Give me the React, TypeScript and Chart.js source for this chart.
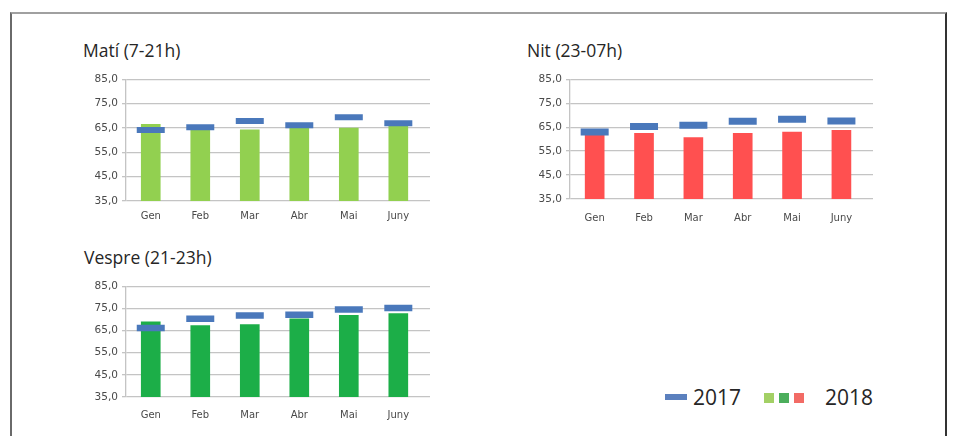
import React, { useEffect, useRef } from "react";
import { Chart, registerables } from "chart.js";

Chart.register(...registerables);

const months = ["Gen", "Feb", "Mar", "Abr", "Mai", "Juny"];
const yTicks = [35, 45, 55, 65, 75, 85];

const mati2018 = [66.5, 65.3, 64.2, 65.5, 65.0, 65.8];
const mati2017 = [64.2, 65.3, 67.9, 66.1, 69.4, 66.9];
const nit2018 = [62.5, 62.4, 60.7, 62.4, 63.0, 63.7];
const nit2017 = [63.0, 65.3, 65.8, 67.5, 68.3, 67.6];
const vespre2018 = [68.9, 67.3, 67.7, 70.3, 71.9, 72.7];
const vespre2017 = [66.2, 70.3, 71.8, 72.2, 74.5, 75.2];

const BLUE = "#4a78bb";
const LIGHT_GREEN = "#92d050";
const DARK_GREEN = "#1cae48";
const RED = "#ff5050";
const GRID = "#c4c4c4";
const TICK_COLOR = "#4a4a4a";

type PanelProps = {
  left: number;
  top: number;
  width: number;
  height: number;
  bars: number[];
  marks: number[];
  color: string;
  labelPad: number;
  markThick: number;
};

function Panel(p: PanelProps) {
  const ref = useRef<HTMLCanvasElement | null>(null);
  useEffect(() => {
    if (!ref.current) return;
    const chart = new Chart(ref.current, {
      type: "bar",
      data: {
        datasets: [
          {
            type: "line",
            data: p.marks.map((v, i) => ({ x: i, y: v })),
            showLine: false,
            pointStyle: "line",
            pointRadius: 14,
            pointHoverRadius: 14,
            pointBorderWidth: p.markThick,
            pointBorderColor: BLUE,
            pointBackgroundColor: BLUE,
            borderColor: BLUE,
            order: 0,
          } as any,
          {
            type: "bar",
            data: p.bars.map((v, i) => ({ x: i, y: v })),
            backgroundColor: p.color,
            borderWidth: 0,
            barThickness: 19,
            order: 1,
          } as any,
        ],
      },
      options: {
        animation: false,
        responsive: false,
        maintainAspectRatio: false,
        layout: { autoPadding: false, padding: { top: 10, left: 0, right: 0, bottom: 0 } },
        plugins: { legend: { display: false }, tooltip: { enabled: false } },
        scales: {
          x: {
            type: "linear",
            min: -0.5,
            max: 5.64,
            offset: false,
            grid: { display: false, drawTicks: false },
            border: { display: false },
            afterBuildTicks: (s: any) => {
              s.ticks = months.map((_, i) => ({ value: i }));
            },
            afterFit: (s: any) => {
              s.height = 29;
            },
            ticks: {
              autoSkip: false,
              maxRotation: 0,
              padding: p.labelPad,
              color: TICK_COLOR,
              font: { family: "DejaVu Sans", size: 10 },
              callback: (v: any) => months[Math.round(Number(v))] ?? "",
            },
          },
          y: {
            min: 35,
            max: 85,
            afterBuildTicks: (s: any) => {
              s.ticks = yTicks.map((v) => ({ value: v }));
            },
            afterFit: (s: any) => {
              s.width = 56;
            },
            grid: { color: GRID, lineWidth: 1.3, tickLength: 4, drawTicks: true },
            border: { display: true, color: GRID, width: 1.3 },
            ticks: {
              padding: 4,
              color: TICK_COLOR,
              font: { family: "DejaVu Sans", size: 10.5 },
              callback: (v: any) => Number(v).toFixed(1).replace(".", ","),
            },
          },
        },
      } as any,
    });
    return () => chart.destroy();
  }, []);
  return (
    <canvas
      ref={ref}
      width={p.width}
      height={p.height}
      style={{ position: "absolute", left: p.left, top: p.top, width: p.width, height: p.height }}
    />
  );
}

const titleStyle: React.CSSProperties = {
  position: "absolute",
  fontFamily: "'Open Sans', sans-serif",
  fontSize: 17.5,
  lineHeight: "17px",
  color: "#262626",
  whiteSpace: "nowrap",
};

const legendText: React.CSSProperties = {
  position: "absolute",
  fontFamily: "'Open Sans', sans-serif",
  fontSize: 21,
  lineHeight: "22px",
  color: "#262626",
  whiteSpace: "nowrap",
};

export default function App() {
  return (
    <div
      style={{
        position: "absolute",
        left: 0,
        top: 0,
        width: 955,
        height: 436,
        overflow: "hidden",
        background: "#ffffff",
      }}
    >
      <div
        style={{
          position: "absolute",
          left: 10,
          top: 12,
          width: 933,
          height: 460,
          borderLeft: "2px solid #6a6a6a",
          borderTop: "2px solid #a0a0a0",
          borderRight: "2px solid #333333",
        }}
      />
      <div style={{ ...titleStyle, left: 83, top: 42 }}>Matí (7-21h)</div>
      <div style={{ ...titleStyle, left: 527, top: 42 }}>Nit (23-07h)</div>
      <div style={{ ...titleStyle, left: 84, top: 249 }}>Vespre (21-23h)</div>

      <Panel left={70} top={69} width={360} height={161} bars={mati2018} marks={mati2017} color={LIGHT_GREEN} labelPad={9} markThick={6} />
      <Panel left={514} top={69} width={359} height={159} bars={nit2018} marks={nit2017} color={RED} labelPad={13} markThick={7} />
      <Panel left={70} top={276} width={360} height={150} bars={vespre2018} marks={vespre2017} color={DARK_GREEN} labelPad={12} markThick={6.5} />

      <div style={{ position: "absolute", left: 665, top: 394, width: 22, height: 6, background: "#5b80be" }} />
      <div style={{ ...legendText, left: 693, top: 386 }}>2017</div>
      <div style={{ position: "absolute", left: 764, top: 393, width: 10, height: 10, background: "#a3d065" }} />
      <div style={{ position: "absolute", left: 779, top: 393, width: 10, height: 10, background: "#4cae5c" }} />
      <div style={{ position: "absolute", left: 794, top: 393, width: 10, height: 10, background: "#f26b65" }} />
      <div style={{ ...legendText, left: 825, top: 386 }}>2018</div>
    </div>
  );
}
